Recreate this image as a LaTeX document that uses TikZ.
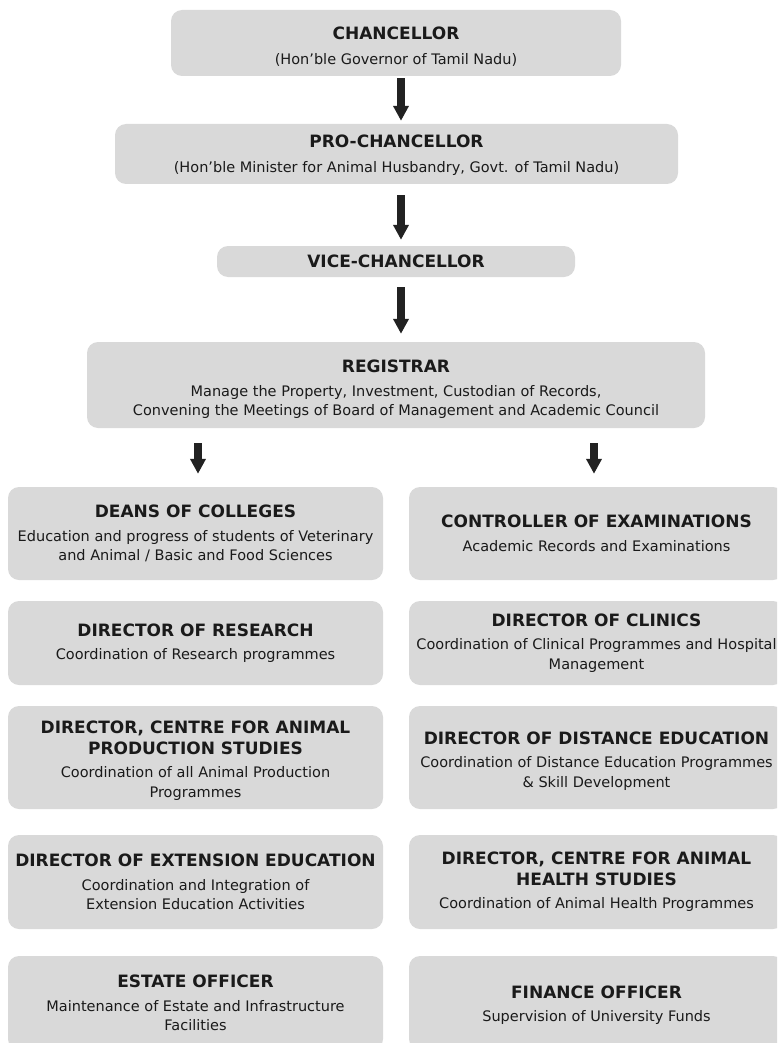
\documentclass[tikz,border=0pt]{standalone}
\usepackage{fontspec}
\setmainfont{DejaVu Sans}
\usetikzlibrary{arrows.meta}
\definecolor{boxgray}{RGB}{217,217,217}
\definecolor{ink}{RGB}{26,26,26}
\definecolor{arrowc}{RGB}{34,34,34}
\newcommand{\tf}{\fontsize{17}{20}\selectfont\bfseries}
\newcommand{\upstrut}[1]{\rule{0pt}{#1}}
\begin{document}
\begin{tikzpicture}[x=1pt,y=-1pt,
  box/.style={fill=boxgray, rounded corners=11pt, inner sep=0pt, align=center,
    text=ink, font=\fontsize{14.5}{19.5}\selectfont},
  colbox/.style={box, minimum width=375pt},
  bigarrow/.style={draw=arrowc, line width=8pt, -{Triangle[length=15pt,width=15pt]}}]
\useasboundingbox (0,0) rectangle (777,1043);
\clip (0,0) rectangle (777,1043);

\node[box, minimum width=450pt, minimum height=66pt] (chan) at (396,43)
  {{\tf\upstrut{20pt}CHANCELLOR}\\[5pt](Hon’ble Governor of Tamil Nadu)};
\node[box, minimum width=563pt, minimum height=60pt] (pro) at (396.5,154)
  {{\tf\upstrut{15pt}PRO-CHANCELLOR}\\[5pt](Hon’ble Minister for Animal Husbandry, Govt. of Tamil Nadu)};
\node[box, minimum width=358pt, minimum height=31pt] (vc) at (396,261.5)
  {{\tf VICE-CHANCELLOR}};
\node[box, minimum width=618pt, minimum height=86pt] (reg) at (396,385)
  {{\tf\upstrut{22pt}REGISTRAR}\\[4pt]Manage the Property, Investment, Custodian of Records,\\
   Convening the Meetings of Board of Management and Academic Council};

% left column
\node[colbox, minimum height=93pt] (deans) at (195.5,533.5)
  {{\tf DEANS OF COLLEGES}\\[4pt]Education and progress of students of Veterinary\\
   and Animal / Basic and Food Sciences};
\node[colbox, minimum height=84pt] (research) at (195.5,643)
  {{\tf DIRECTOR OF RESEARCH}\\[4pt]Coordination of Research programmes};
\node[colbox, minimum height=103pt] (caps) at (195.5,757.5)
  {{\tf\upstrut{19pt}DIRECTOR, CENTRE FOR ANIMAL}\\[1pt]{\tf PRODUCTION STUDIES}\\[4pt]Coordination of all Animal Production\\
   Programmes};
\node[colbox, minimum height=94pt] (ext) at (195.5,882)
  {{\tf DIRECTOR OF EXTENSION EDUCATION}\\[4pt]Coordination and Integration of\\
   Extension Education Activities};
\node[colbox, minimum height=94pt] (estate) at (195.5,1003)
  {{\tf ESTATE OFFICER}\\[4pt]Maintenance of Estate and Infrastructure\\ Facilities};

% right column
\node[colbox, minimum height=93pt] (coe) at (596.5,533.5)
  {{\tf CONTROLLER OF EXAMINATIONS}\\[4pt]Academic Records and Examinations};
\node[colbox, minimum height=84pt] (clinics) at (596.5,643)
  {{\tf DIRECTOR OF CLINICS}\\[4pt]Coordination of Clinical Programmes and Hospital\\ Management};
\node[colbox, minimum height=103pt] (dde) at (596.5,757.5)
  {{\tf\upstrut{19pt}DIRECTOR OF DISTANCE EDUCATION}\\[4pt]Coordination of Distance Education Programmes\\
   \& Skill Development};
\node[colbox, minimum height=94pt] (cahs) at (596.5,882)
  {{\tf DIRECTOR, CENTRE FOR ANIMAL}\\[1pt]{\tf HEALTH STUDIES}\\[4pt]Coordination of Animal Health Programmes};
\node[colbox, minimum height=94pt] (fin) at (596.5,1003)
  {{\tf\upstrut{17pt}FINANCE OFFICER}\\[4pt]Supervision of University Funds};

% arrows
\coordinate (a1s) at ([xshift=5pt,yshift=-2pt]chan.south);
\coordinate (a1e) at ([xshift=4.5pt,yshift=3pt]pro.north);
\coordinate (a2s) at ([xshift=4.5pt,yshift=-11pt]pro.south);
\coordinate (a2e) at ([xshift=5pt,yshift=6pt]vc.north);
\coordinate (a3s) at ([xshift=5pt,yshift=-10pt]vc.south);
\coordinate (a3e) at ([xshift=5pt,yshift=8pt]reg.north);
\coordinate (a4s) at ([xshift=-198pt,yshift=-15pt]reg.south);
\coordinate (a4e) at ([xshift=2.5pt,yshift=13pt]deans.north);
\coordinate (a5s) at ([xshift=198pt,yshift=-15pt]reg.south);
\coordinate (a5e) at ([xshift=-2.5pt,yshift=13pt]coe.north);
\draw[bigarrow] (a1s) -- (a1e);
\draw[bigarrow] (a2s) -- (a2e);
\draw[bigarrow] (a3s) -- (a3e);
\draw[bigarrow] (a4s) -- (a4e);
\draw[bigarrow] (a5s) -- (a5e);
\end{tikzpicture}
\end{document}
